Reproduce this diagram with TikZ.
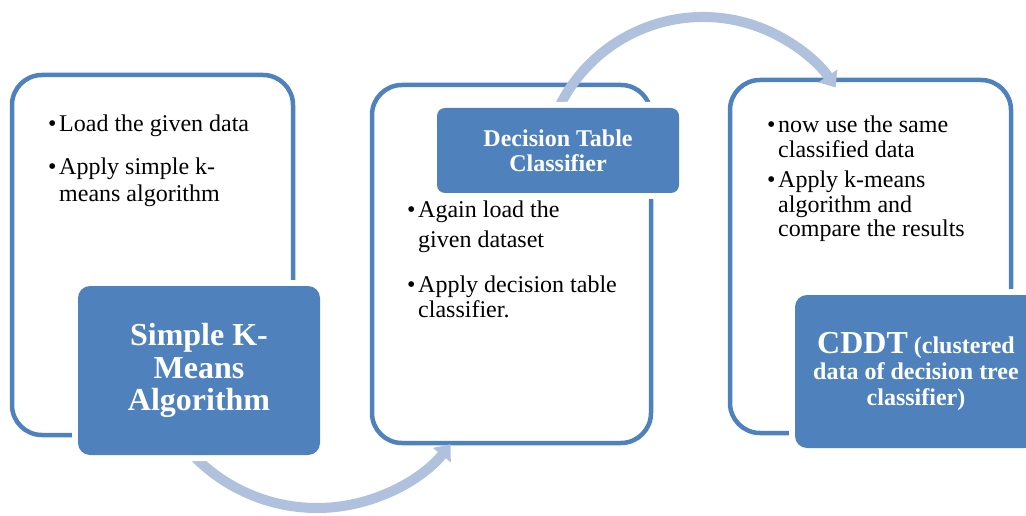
\documentclass[tikz,border=0pt]{standalone}
\usepackage{fontspec}
\setmainfont{Liberation Serif}
\usetikzlibrary{arrows.meta}
\definecolor{accent}{RGB}{79,129,189}
\definecolor{arcblue}{RGB}{176,193,221}
\tikzset{
  outline/.style={draw=accent, line width=4.5pt, rounded corners=30pt, inner sep=0pt},
  darkbox/.style={fill=accent, rounded corners=#1, preaction={draw=white, line width=12pt},
    text=white, align=center, inner sep=0pt},
  darkbox/.default=12pt,
  flow/.style={draw=arcblue, line width=10pt, -{Triangle[width=22pt,length=14pt]}},
  bitem/.style={anchor=base west, inner sep=0pt, text=black}
}
\newcommand{\bulitem}[2]{\parbox[t]{320pt}{\fontsize{24}{#1}\selectfont
  \hangindent=11pt\hangafter=1\noindent\makebox[11pt][l]{•}#2}}
\begin{document}
\begin{tikzpicture}[x=1pt,y=1pt]
\useasboundingbox (0,0) rectangle (1026,515);
\clip (0,0) rectangle (1026,515);
% outline boxes
\node[outline, minimum width=281pt, minimum height=360pt] (o1) at (152.5,260) {};
\node[outline, minimum width=279pt, minimum height=358pt] (o2) at (511.5,251) {};
\node[outline, minimum width=281pt, minimum height=353pt] (o3) at (870.5,258.5) {};
% flow arcs
\coordinate (a1s) at ({317+172*cos(220)},{179+172*sin(220)});
\coordinate (a2s) at ({703+160*cos(157)},{338+160*sin(157)});
\draw[flow] (a1s) arc[start angle=220, end angle=321, radius=172];
\draw[flow] (a2s) arc[start angle=157, end angle=34, radius=160];
% dark boxes
\node[darkbox, minimum width=242pt, minimum height=169pt,
  font=\fontsize{32}{32.5}\selectfont\bfseries] (d1) at (199,144.5)
  {Simple K-\\Means\\Algorithm};
\node[darkbox=8pt, minimum width=242pt, minimum height=85pt,
  font=\fontsize{24}{25}\selectfont\bfseries] (d2) at (558,364.5)
  {Decision Table\\Classifier};
\node[darkbox, minimum width=242pt, minimum height=153pt,
  font=\fontsize{24}{26}\selectfont\bfseries] (d3) at (916,143.5)
  {{\fontsize{32}{32}\selectfont CDDT} (clustered\\data of decision tree\\classifier)};
% bullet texts
\node[bitem] (t1a) at (48,383) {\bulitem{27}{Load the given data}};
\node[bitem] (t1b) at (48,340) {\bulitem{27}{Apply simple k-\\means algorithm}};
\node[bitem] (t2a) at (407,297) {\bulitem{29}{Again load the\\given dataset}};
\node[bitem] (t2b) at (407,223) {\bulitem{25}{Apply decision table\\classifier.}};
\node[bitem] (t3a) at (767,382) {\bulitem{25}{now use the same\\classified data}};
\node[bitem] (t3b) at (767,327) {\bulitem{24.5}{Apply k-means\\algorithm and\\compare the results}};
\end{tikzpicture}
\end{document}
